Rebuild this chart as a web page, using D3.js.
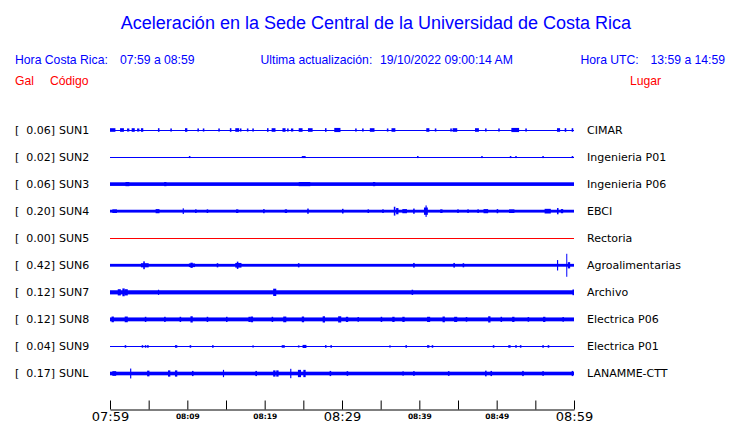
<!DOCTYPE html>
<html><head><meta charset="utf-8">
<script src="https://cdn.jsdelivr.net/npm/d3@7"></script>
<style>
html,body{margin:0;padding:0;background:#fff;}
svg{display:block;}
</style></head>
<body><svg id="chart" width="740" height="423"></svg>
<script>
// ---------------- data ----------------
const title = "Aceleración en la Sede Central de la Universidad de Costa Rica";
const localRange = ["07:59", "08:59"];
const utcRange = ["13:59", "14:59"];
const updated = "19/10/2022 09:00:14 AM";

const stations = ["SUN1","SUN2","SUN3","SUN4","SUN5","SUN6","SUN7","SUN8","SUN9","SUNL"];
const places = ["CIMAR","Ingenieria P01","Ingenieria P06","EBCI","Rectoria","Agroalimentarias","Archivo","Electrica P06","Electrica P01","LANAMME-CTT"];
const peaks = [0.06,0.02,0.06,0.20,0.00,0.42,0.12,0.12,0.04,0.17];          // gal
const baseNoise = [0,0,0.05,0.035,0,0.035,0.06,0.055,0,0.05];              // gal, background envelope

// bursts: [minute after 07:59, amplitude in gal, duration in minutes]
const bursts = [
 [[0.0,0.05,0.7],[1.3,0.05,0.5],[2.2,0.04,0.3],[2.8,0.05,0.4],[3.5,0.04,0.3],[4.0,0.05,0.3],[6.2,0.05,0.2],[7.8,0.04,0.2],[9.7,0.05,0.3],[11.3,0.04,0.2],[12.0,0.04,0.2],[14.0,0.04,0.2],[15.5,0.05,0.2],[16.2,0.05,0.5],[16.8,0.04,0.2],[17.7,0.04,0.2],[18.4,0.04,0.2],[20.3,0.05,0.2],[20.9,0.05,0.5],[22.3,0.05,0.4],[22.9,0.04,0.2],[23.4,0.04,0.3],[24.4,0.05,0.5],[25.6,0.05,0.6],[27.8,0.05,0.2],[29.0,0.06,0.8],[31.7,0.04,0.2],[32.6,0.04,0.2],[33.6,0.05,0.6],[35.8,0.04,0.2],[36.4,0.05,0.5],[40.9,0.05,0.4],[42.0,0.04,0.2],[44.0,0.04,0.2],[44.3,0.05,0.6],[47.2,0.05,0.5],[48.5,0.04,0.2],[50.2,0.04,0.2],[51.9,0.06,1.0],[53.7,0.04,0.2],[57.8,0.05,0.4],[58.8,0.05,0.2],[59.7,0.05,0.2]],
 [[10.2,0.02,0.2],[24.8,0.02,0.5],[39.7,0.02,0.2],[48.0,0.02,0.2],[51.7,0.02,0.2],[52.4,0.02,0.2],[55.9,0.02,0.2],[59.7,0.02,0.2]],
 [[2.0,0.06,0.5],[7.0,0.06,0.3],[24.4,0.06,1.5],[34.0,0.06,0.3]],
 [[0.3,0.05,0.6],[5.9,0.06,0.5],[9.4,0.09,0.15],[11.0,0.05,0.2],[12.5,0.05,0.2],[16.3,0.05,0.3],[19.8,0.06,0.2],[22.6,0.05,0.3],[25.5,0.08,0.2],[30.0,0.07,0.2],[33.3,0.05,0.2],[35.2,0.05,0.2],[36.7,0.15,0.2],[37.0,0.10,0.3],[37.8,0.06,0.6],[39.2,0.08,0.2],[40.6,0.12,0.5],[40.8,0.20,0.15],[42.7,0.05,0.3],[44.9,0.05,0.2],[46.2,0.05,0.2],[47.5,0.05,0.2],[48.3,0.06,0.6],[50.0,0.06,0.2],[51.6,0.05,0.7],[56.2,0.07,0.8],[57.8,0.10,0.2],[58.3,0.06,0.3]],
 [],
 [[4.0,0.06,1.0],[4.3,0.13,0.2],[10.2,0.05,0.8],[10.4,0.08,0.3],[13.8,0.06,0.2],[16.2,0.07,0.8],[16.4,0.12,0.2],[24.3,0.06,0.2],[39.2,0.07,0.2],[44.4,0.07,0.2],[45.6,0.06,0.2],[57.8,0.18,0.15],[59.0,0.42,0.12],[59.2,0.10,0.3]],
 [[1.0,0.10,0.4],[1.6,0.13,0.3],[1.9,0.10,0.4],[6.2,0.08,0.15],[21.1,0.12,0.4],[39.0,0.08,0.2],[59.8,0.09,0.2]],
 [[0.2,0.09,0.3],[1.9,0.09,0.4],[4.5,0.08,0.2],[7.0,0.08,0.2],[9.0,0.08,0.2],[10.4,0.10,0.3],[12.5,0.08,0.2],[15.0,0.08,0.2],[17.9,0.08,0.3],[18.2,0.09,0.3],[20.9,0.08,0.2],[22.4,0.09,0.4],[24.8,0.09,0.3],[27.5,0.10,0.3],[29.5,0.10,0.4],[30.5,0.08,0.3],[32.0,0.07,0.2],[35.0,0.08,0.2],[36.5,0.08,0.3],[37.8,0.08,0.3],[41.0,0.08,0.4],[43.0,0.09,0.3],[44.5,0.08,0.4],[46.0,0.07,0.2],[48.9,0.10,0.3],[50.5,0.08,0.2],[52.0,0.08,0.3],[54.0,0.07,0.2],[56.0,0.08,0.3],[58.5,0.07,0.2]],
 [[1.9,0.03,0.2],[4.1,0.03,0.2],[4.5,0.03,0.2],[4.8,0.03,0.2],[8.4,0.03,0.3],[10.3,0.03,0.2],[13.2,0.03,0.2],[18.4,0.02,0.2],[22.2,0.03,0.4],[24.3,0.02,0.2],[24.9,0.04,0.5],[27.8,0.03,0.2],[28.5,0.03,0.2],[36.1,0.02,0.2],[38.2,0.03,0.2],[41.0,0.03,0.3],[41.6,0.03,0.2],[49.5,0.03,0.2],[51.5,0.03,0.3],[52.4,0.03,0.2],[53.0,0.03,0.2],[55.9,0.03,0.2],[56.6,0.03,0.2]],
 [[0.3,0.07,0.5],[2.6,0.17,0.15],[4.8,0.09,0.3],[7.5,0.10,0.3],[8.4,0.10,0.3],[10.6,0.08,0.2],[14.6,0.12,0.15],[18.8,0.08,0.2],[21.1,0.10,0.3],[21.5,0.10,0.3],[23.3,0.16,0.15],[24.3,0.12,0.4],[25.0,0.12,0.3],[28.4,0.08,0.2],[30.6,0.07,0.2],[37.8,0.06,0.2],[39.2,0.07,0.2],[43.7,0.07,0.2],[48.5,0.09,0.2],[49.2,0.08,0.2],[53.3,0.08,0.2],[55.9,0.07,0.2],[59.7,0.08,0.2]]
];

const tickMinutes = [0,5,10,15,20,25,30,35,40,45,50,55,60];
const tickLabels = ["07:59","","08:09","","08:19","","08:29","","08:39","","08:49","","08:59"];
const majorLabels = ["07:59","08:29","08:59"];

// ---------------- drawing ----------------
const BLUE = "#0000ff", RED = "#ff0000";
const svg = d3.select("#chart");
const t0 = new Date(2022, 9, 19, 7, 59, 0);
const tm = m => new Date(t0.getTime() + m * 60000);

const x = d3.scaleTime().domain([tm(0), tm(60)]).range([110, 574]);
const y = d3.scalePoint().domain(stations).range([130, 373.5]);
const amp = d3.scaleLinear().domain([0, 0.42]).range([0, 11]);

// header
const hdr = svg.append("g").attr("font-family", "'Liberation Sans', Arial, sans-serif");
hdr.append("text").attr("x", 376).attr("y", 29).attr("text-anchor", "middle")
  .attr("font-size", 18).attr("fill", BLUE).text(title);
const info = [
  ["Hora Costa Rica:", 15, 64, BLUE],
  [localRange[0] + " a " + localRange[1], 120, 64, BLUE],
  ["Ultima actualización:", 260.5, 64, BLUE],
  [updated, 380, 64, BLUE],
  ["Hora UTC:", 580.5, 64, BLUE],
  [utcRange[0] + " a " + utcRange[1], 650.5, 64, BLUE],
  ["Gal", 15, 85, RED],
  ["Código", 50, 85, RED],
  ["Lugar", 630, 85, RED]
];
hdr.selectAll("text.info").data(info).join("text").attr("class", "info")
  .attr("x", d => d[1]).attr("y", d => d[2]).attr("fill", d => d[3])
  .attr("font-size", 12.2).text(d => d[0]);

// rows
const rows = svg.append("g").selectAll("g").data(stations).join("g")
  .attr("transform", d => `translate(0,${y(d)})`);

const lab = rows.append("g").attr("font-family", "'DejaVu Sans', sans-serif").attr("font-size", 11).attr("fill", "#000");
lab.append("text").attr("x", 15).attr("dy", "0.35em").text("[");
lab.append("text").attr("x", 55).attr("dy", "0.35em").attr("text-anchor", "end").text((d, i) => peaks[i].toFixed(2) + "]");
lab.append("text").attr("x", 59).attr("dy", "0.35em").text(d => d);
lab.append("text").attr("x", 587).attr("dy", "0.35em").text((d, i) => places[i]);

rows.each(function(d, i) {
  const g = d3.select(this);
  const col = peaks[i] === 0 ? RED : BLUE;
  g.append("rect").attr("x", x(tm(0))).attr("width", x(tm(60)) - x(tm(0)))
    .attr("y", -0.5).attr("height", 1).attr("fill", col).attr("shape-rendering", "crispEdges");
  if (baseNoise[i] > 0) {
    const h = amp(baseNoise[i]);
    g.append("rect").attr("x", x(tm(0))).attr("width", x(tm(60)) - x(tm(0)))
      .attr("y", -h - 0.5).attr("height", 2 * h + 1).attr("fill", col);
  }
  g.selectAll("rect.b").data(bursts[i]).join("rect").attr("class", "b")
    .attr("x", b => x(tm(b[0])))
    .attr("width", b => Math.max(1, x(tm(b[0] + b[2])) - x(tm(b[0]))))
    .attr("y", b => -amp(b[1]) - 0.5)
    .attr("height", b => 2 * amp(b[1]) + 1)
    .attr("fill", col);
});

// time axis
const axis = d3.axisBottom(x).tickValues(tickMinutes.map(tm))
  .tickSizeInner(-9).tickSizeOuter(0).tickFormat((d, i) => tickLabels[i]);
const ax = svg.append("g").attr("transform", "translate(0,409.5)").call(axis);
ax.select(".domain").attr("stroke", "#000");
ax.selectAll(".tick line").attr("stroke", "#000");
ax.selectAll(".tick text")
  .attr("font-family", "'DejaVu Sans', sans-serif")
  .attr("fill", "#000")
  .attr("y", 0)
  .attr("dy", (d, i) => majorLabels.includes(tickLabels[i]) ? "11.5px" : "9px")
  .attr("font-size", (d, i) => majorLabels.includes(tickLabels[i]) ? 13 : 7.5)
  .attr("font-weight", (d, i) => majorLabels.includes(tickLabels[i]) ? "normal" : "bold");
</script></body></html>
